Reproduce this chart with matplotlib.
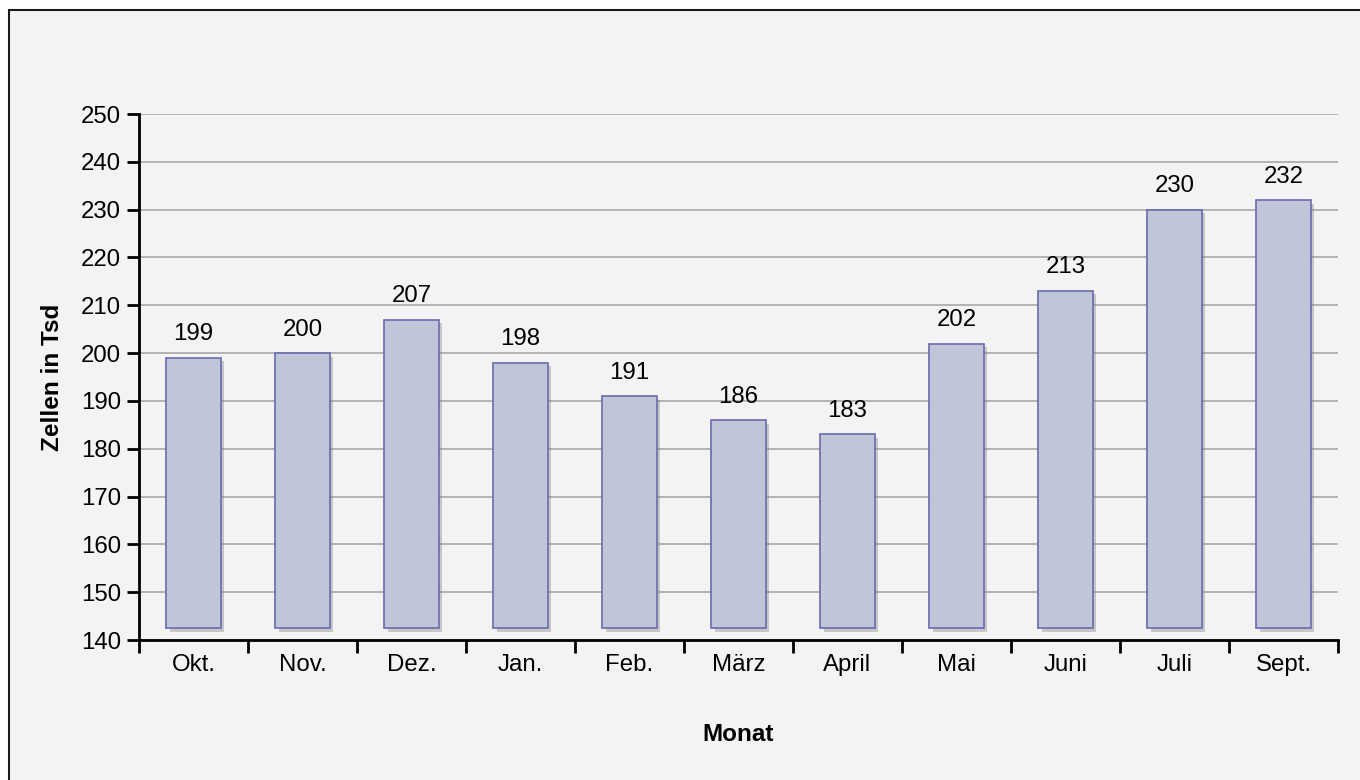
import matplotlib.pyplot as plt
from matplotlib.patches import Rectangle
import matplotlib.patheffects as pe
import numpy as np

plt.rcParams['font.family'] = ['Liberation Sans', 'DejaVu Sans']

# Zellen je Monat (Tsd)
monate = ['Okt.', 'Nov.', 'Dez.', 'Jan.', 'Feb.', 'März', 'April', 'Mai', 'Juni', 'Juli', 'Sept.']
zellen = [199, 200, 207, 198, 191, 186, 183, 202, 213, 230, 232]
basis = 142.5
yticks = [140, 150, 160, 170, 180, 190, 200, 210, 220, 230, 240, 250]

fig = plt.figure(figsize=(13.6, 7.8), dpi=100)
fig.patch.set_facecolor('white')
# grey panel with dark frame
fig.patches.append(Rectangle((9/1360, -0.05), 1.1, 1 - 10/780 + 0.05, transform=fig.transFigure,
                             facecolor='#f3f3f3', edgecolor='#1a1a1a', linewidth=1.5, zorder=-5))

ax = fig.add_axes([139/1360, 1 - 640/780, (1338 - 139)/1360, (640 - 114)/780])
ax.set_facecolor('none')

x = np.arange(len(monate))
bars = ax.bar(x, np.array(zellen) - basis, bottom=basis, width=0.5,
              color='#c0c5d8', edgecolor='#6a6aae', linewidth=1.2, zorder=3)
for b in bars:
    b.set_path_effects([pe.SimplePatchShadow(offset=(2.5, -2.5), shadow_rgbFace='#777777', alpha=0.35),
                        pe.Normal()])

for xi, v in zip(x, zellen):
    ax.annotate(str(v), (xi, v), xytext=(0, 9), textcoords='offset points',
                ha='center', va='bottom', fontsize=17.3, color='black')

ax.set_xlim(-0.5, len(monate) - 0.5)
ax.set_ylim(140, 250)
ax.set_yticks(yticks)
ax.set_yticklabels([str(t) for t in yticks], fontsize=17.3)
ax.yaxis.grid(True, color='#a8a8a8', linewidth=1.2, zorder=1)
ax.set_axisbelow(True)

ax.set_xticks(x)
ax.set_xticklabels(monate, fontsize=17.3)
ax.tick_params(axis='x', length=0, pad=10)
ax.set_xticks(np.arange(-0.5, len(monate)), minor=True)
ax.tick_params(axis='x', which='minor', length=9, width=2, direction='out')
ax.tick_params(axis='y', length=9, width=2, direction='out', pad=4)

for s in ['top', 'right']:
    ax.spines[s].set_visible(False)
for s in ['left', 'bottom']:
    ax.spines[s].set_linewidth(2)

ax.set_ylabel('Zellen in Tsd', fontsize=17.5, fontweight='bold', labelpad=12)
ax.set_xlabel('Monat', fontsize=17.5, fontweight='bold', labelpad=34)

fig.savefig('out.png', dpi=100)
